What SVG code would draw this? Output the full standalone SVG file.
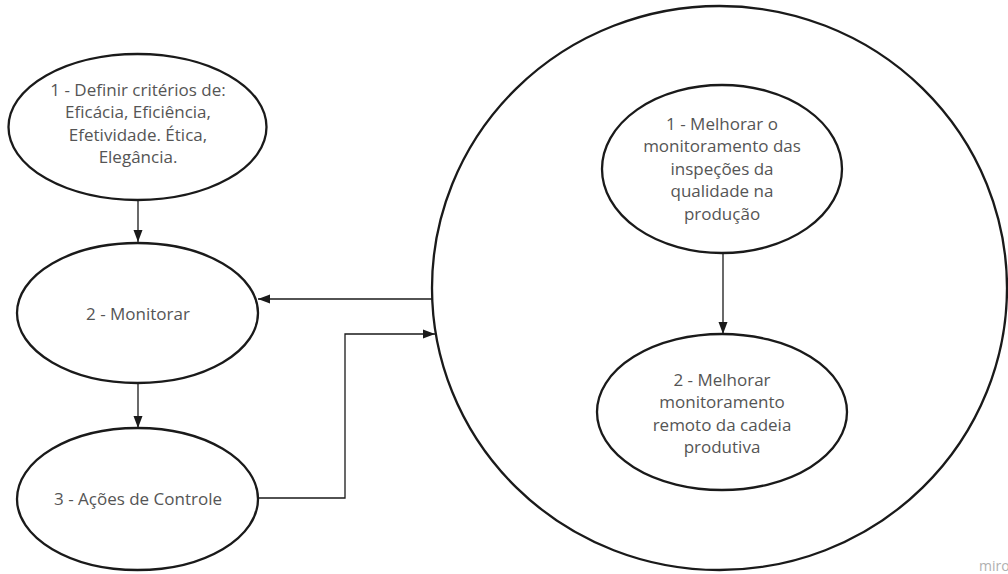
<svg xmlns="http://www.w3.org/2000/svg" width="1008" height="574" viewBox="0 0 1008 574">
  <style>
    .node { fill: #ffffff; stroke: #1a1a1a; stroke-width: 2.3; }
    .label { font-family: "Open Sans", "Liberation Sans", sans-serif; font-size: 17px; fill: #555555; text-anchor: middle; dominant-baseline: central; }
    .edge { fill: none; stroke: #1a1a1a; stroke-width: 1.3; }
    .brand { font-family: "Open Sans", "Liberation Sans", sans-serif; font-size: 14px; fill: #b0b0b0; }
  </style>
  <defs>
    <marker id="arrow" viewBox="0 0 12 10" refX="12" refY="5" markerWidth="12" markerHeight="10" markerUnits="userSpaceOnUse" orient="auto">
      <path d="M0,0.5 L12,5 L0,9.5 z" fill="#1a1a1a"/>
    </marker>
  </defs>

  <rect width="1008" height="574" fill="#ffffff"/>

  <!-- outer container -->
  <g id="improvements">
    <ellipse class="node" cx="719.5" cy="288" rx="287.5" ry="282"/>
  </g>

  <g id="define-criteria">
    <ellipse class="node" cx="137.5" cy="127" rx="129" ry="73"/>
    <text class="label" x="138" y="89">1 - Definir critérios de:</text>
    <text class="label" x="138" y="111.5">Eficácia, Eficiência,</text>
    <text class="label" x="138" y="134">Efetividade. Ética,</text>
    <text class="label" x="138" y="156.5">Elegância.</text>
  </g>

  <g id="monitor">
    <ellipse class="node" cx="137.5" cy="313" rx="120.5" ry="70"/>
    <text class="label" x="138" y="313">2 - Monitorar</text>
  </g>

  <g id="control-actions">
    <ellipse class="node" cx="137.5" cy="499" rx="120.5" ry="71"/>
    <text class="label" x="138" y="498">3 - Ações de Controle</text>
  </g>

  <g id="improve-inspections">
    <ellipse class="node" cx="722" cy="169" rx="120" ry="84"/>
    <text class="label" x="722" y="123">1 - Melhorar o</text>
    <text class="label" x="722" y="145.5">monitoramento das</text>
    <text class="label" x="722" y="168">inspeções da</text>
    <text class="label" x="722" y="190.5">qualidade na</text>
    <text class="label" x="722" y="213">produção</text>
  </g>

  <g id="improve-remote">
    <ellipse class="node" cx="722" cy="412" rx="125" ry="78"/>
    <text class="label" x="722" y="379">2 - Melhorar</text>
    <text class="label" x="722" y="401.5">monitoramento</text>
    <text class="label" x="722" y="424">remoto da cadeia</text>
    <text class="label" x="722" y="446.5">produtiva</text>
  </g>

  <g id="connectors">
    <path class="edge" d="M138,200 L138,242" marker-end="url(#arrow)"/>
    <path class="edge" d="M138,383 L138,428" marker-end="url(#arrow)"/>
    <path class="edge" d="M432,299 L258,299" marker-end="url(#arrow)"/>
    <path class="edge" d="M258,498 L345,498 L345,334 L435,334" marker-end="url(#arrow)"/>
    <path class="edge" d="M723,253 L723,334" marker-end="url(#arrow)"/>
  </g>

  <text class="brand" x="979" y="571">miro</text>
</svg>
